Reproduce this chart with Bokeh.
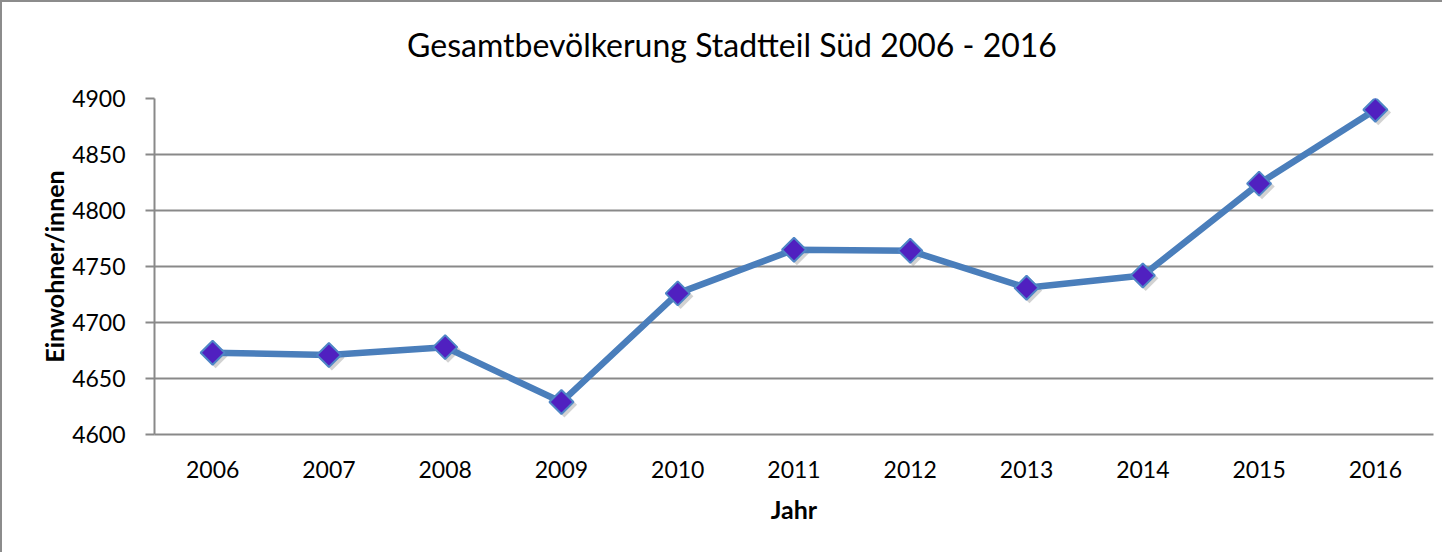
import math
from bokeh.plotting import figure
from bokeh.layouts import column
from bokeh.models import ColumnDataSource, FixedTicker, Range1d, Div
from bokeh.transform import dodge
from bokeh.embed import file_html
from bokeh.resources import INLINE

years = ["2006", "2007", "2008", "2009", "2010", "2011", "2012", "2013", "2014", "2015", "2016"]
population = [4673, 4671, 4678, 4629, 4726, 4765, 4764, 4731, 4742, 4824, 4890]
y_ticks = [4600, 4650, 4700, 4750, 4800, 4850, 4900]
title_text = "Gesamtbevölkerung Stadtteil Süd 2006 - 2016"

FONT = "Lato"
GRID = "#898989"

src = ColumnDataSource(dict(year=years, pop=population, shadow_pop=[v - 2.5 for v in population]))

title_div = Div(
    text=(
        '<div style="font-family:Lato;font-size:32px;line-height:38px;'
        'text-align:center;width:1460px;padding-top:24px;color:#000000;'
        'white-space:nowrap">' + title_text + "</div>"
    ),
    width=1440,
    height=60,
    margin=0,
)

p = figure(
    x_range=years,
    y_range=Range1d(4600, 4900),
    width=1440,
    height=490,
    output_backend="svg",
    toolbar_location=None,
    min_border_left=152,
    min_border_right=9,
    min_border_top=36,
    min_border_bottom=118,
    background_fill_color="white",
    border_fill_color="white",
    outline_line_color=None,
    margin=0,
)

# grid
p.xgrid.grid_line_color = None
p.ygrid.grid_line_color = GRID
p.ygrid.grid_line_width = 2

# y axis
p.yaxis.ticker = FixedTicker(ticks=y_ticks)
p.yaxis.axis_line_color = GRID
p.yaxis.axis_line_width = 2
p.yaxis.major_tick_line_color = GRID
p.yaxis.major_tick_line_width = 2
p.yaxis.major_tick_out = 9
p.yaxis.major_tick_in = 0
p.yaxis.minor_tick_line_color = None
p.yaxis.major_label_standoff = 20
p.yaxis.major_label_text_font = FONT
p.yaxis.major_label_text_font_size = "23px"
p.yaxis.major_label_text_color = "#000000"
p.yaxis.axis_label = "Einwohner/innen"
p.yaxis.axis_label_text_font = FONT
p.yaxis.axis_label_text_font_size = "25px"
p.yaxis.axis_label_text_font_style = "bold"
p.yaxis.axis_label_text_color = "#000000"
p.yaxis.axis_label_standoff = 0

# x axis
p.xaxis.axis_line_color = GRID
p.xaxis.axis_line_width = 2
p.xaxis.major_tick_line_color = None
p.xaxis.major_tick_out = 0
p.xaxis.minor_tick_line_color = None
p.xaxis.major_label_standoff = 26
p.xaxis.major_label_text_font = FONT
p.xaxis.major_label_text_font_size = "23px"
p.xaxis.major_label_text_color = "#000000"
p.xaxis.axis_label = "Jahr"
p.xaxis.axis_label_text_font = FONT
p.xaxis.axis_label_text_font_size = "25px"
p.xaxis.axis_label_text_font_style = "bold"
p.xaxis.axis_label_text_color = "#000000"
p.xaxis.axis_label_standoff = 13

# marker shadow
p.scatter(x=dodge("year", 0.025, range=p.x_range), y="shadow_pop", source=src,
          marker="square", size=18, angle=math.pi / 4,
          fill_color="#7f7f7f", fill_alpha=0.35, line_color=None)

# line
p.line(x="year", y="pop", source=src, line_color="#4A7EBB", line_width=6.5,
       line_join="round")

# markers
p.scatter(x="year", y="pop", source=src, marker="square", size=17, angle=math.pi / 4,
          fill_color="#5020C0", line_color="#4F86C6", line_width=2)

layout = column(title_div, p, spacing=0, margin=0,
                styles={"border-left": "2px solid #8c8c8c", "border-top": "2px solid #8c8c8c",
                        "background-color": "white"})

open("out.html", "w").write(file_html(layout, INLINE))
